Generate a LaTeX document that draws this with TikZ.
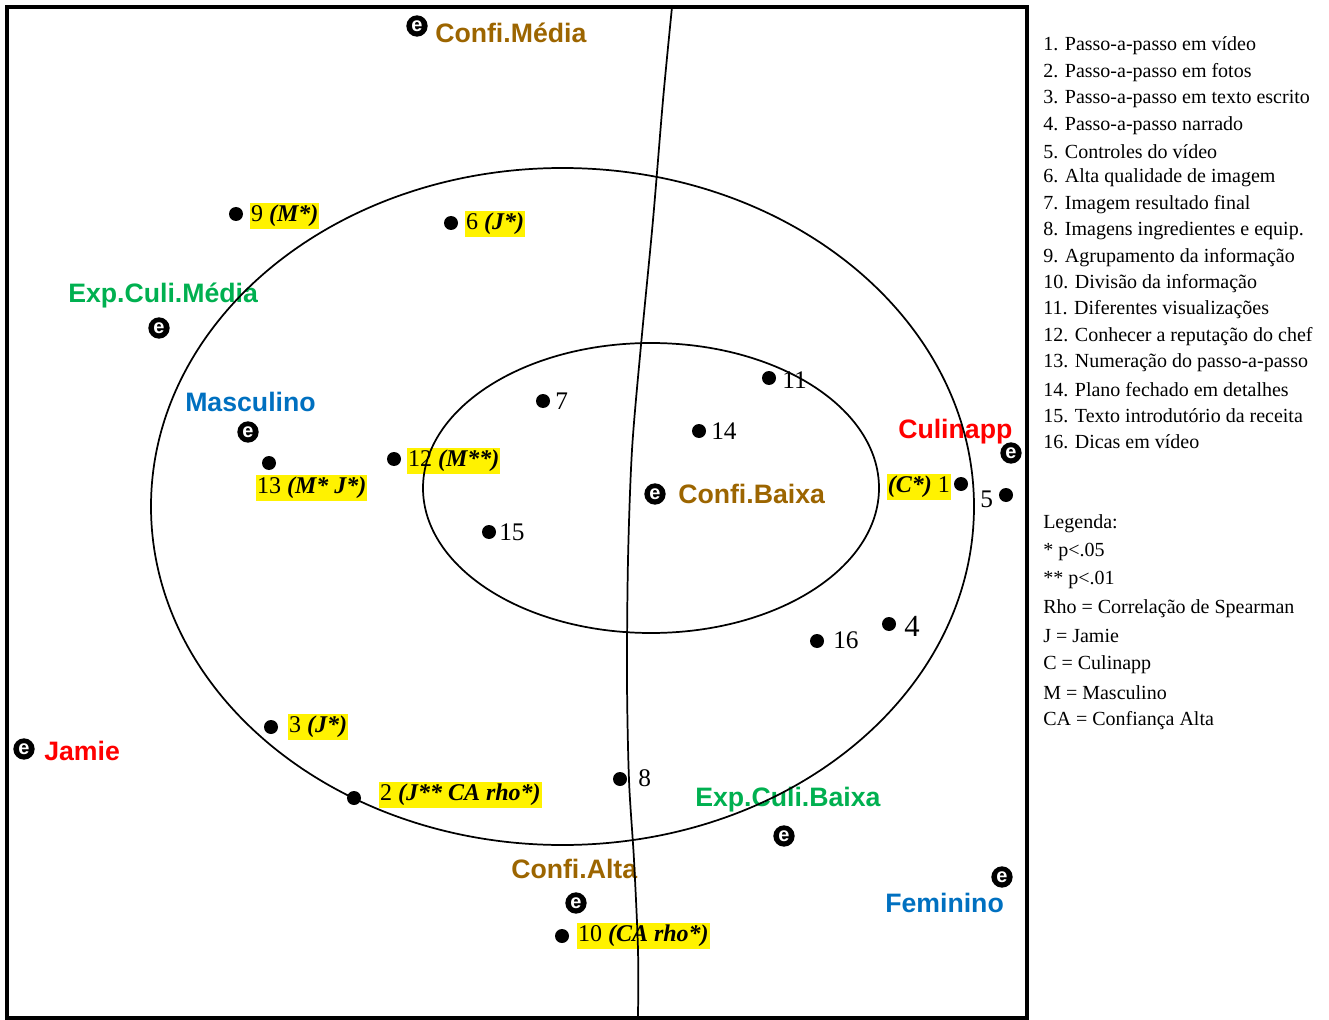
\documentclass[tikz,border=0pt]{standalone}
\usepackage{fontspec}
\setmainfont{Liberation Serif}
\newfontfamily\catfont{Liberation Sans}
\usepackage{tikz}

\definecolor{confbrown}{RGB}{156,101,0}
\definecolor{expgreen}{RGB}{0,176,80}
\definecolor{sexblue}{RGB}{0,112,192}
\definecolor{appred}{RGB}{255,0,0}

\tikzset{
  pt/.style={circle, fill=black, inner sep=0pt, minimum size=10.5pt},
  icon/.style={circle, fill=black, inner sep=0pt, minimum size=16pt, text=white,
    font=\catfont\bfseries\fontsize{15}{15}\selectfont},
  cat/.style={anchor=west, inner sep=0pt, font=\catfont\bfseries\fontsize{20}{22}\selectfont},
  hl/.style={anchor=west, fill=yellow, inner xsep=0.6pt, inner ysep=1.8pt, font=\fontsize{18}{20}\selectfont},
  num/.style={anchor=west, inner sep=0pt, font=\fontsize{19}{20}\selectfont},
  leg/.style={anchor=west, inner sep=0pt, font=\fontsize{15}{17}\selectfont},
}
\newcommand{\sig}[1]{\textbf{\textit{#1}}}

\begin{document}
\begin{tikzpicture}[x=0.75pt, y=-0.75pt]
        \useasboundingbox (0,0) rectangle (1329,1020);

        % Points of the map
        \node[pt] (p1) at (961,484) {};
        \node[pt] (p2) at (354,798) {};
        \node[pt] (p3) at (271,727) {};
        \node[pt] (p4) at (889,624) {};
        \node[pt] (p5) at (1006,495) {};
        \node[pt] (p6) at (451,223) {};
        \node[pt] (p7) at (543,401) {};
        \node[pt] (p8) at (620,779) {};
        \node[pt] (p9) at (236,214) {};
        \node[pt] (p10) at (562,936) {};
        \node[pt] (p11) at (769,378) {};
        \node[pt] (p12) at (394,459) {};
        \node[pt] (p13) at (269,463) {};
        \node[pt] (p14) at (699,431) {};
        \node[pt] (p15) at (489,532) {};
        \node[pt] (p16) at (817,641) {};

        % Labels of the points
        \node[hl, anchor=east] (l1) at (951,487) {\sig{(C*)} 1};
        \node[hl] (l2) at (379,795) {2 \sig{(J** CA rho*)}};
        \node[hl] (l3) at (288,727) {3 \sig{(J*)}};
        \node[num, font=\fontsize{23}{24}\selectfont] (l4) at (904,626) {4};
        \node[num] (l5) at (980,499) {5};
        \node[hl] (l6) at (465,224) {6 \sig{(J*)}};
        \node[num] (l7) at (555,401) {7};
        \node[num] (l8) at (638,778) {8};
        \node[hl] (l9) at (250,216) {9 \sig{(M*)}};
        \node[hl] (l10) at (577,936) {10 \sig{(CA rho*)}};
        \node[num] (l11) at (782,380) {11};
        \node[hl] (l12) at (407,461) {12 \sig{(M**)}};
        \node[hl] (l13) at (256,488) {13 \sig{(M* J*)}};
        \node[num] (l14) at (711,431) {14};
        \node[num] (l15) at (499,532) {15};
        \node[num] (l16) at (833,640) {16};

        % Category points
        \node[icon] (iConfMedia) at (417,26) {e};
        \node[cat, text=confbrown] (tConfMedia) at (435,33) {Confi.Média};
        \node[icon] (iExpMedia) at (159,328) {e};
        \node[cat, text=expgreen] (tExpMedia) at (68,295) {Exp.Culi.Média};
        \node[icon] (iMasc) at (248,432) {e};
        \node[cat, text=sexblue] (tMasc) at (185,402) {Masculino};
        \node[icon] (iCulin) at (1011,453) {e};
        \node[cat, text=appred] (tCulin) at (898,432) {Culinapp};
        \node[icon] (iConfBaixa) at (655,494) {e};
        \node[cat, text=confbrown] (tConfBaixa) at (678,494) {Confi.Baixa};
        \node[icon] (iJamie) at (24,749) {e};
        \node[cat, text=appred] (tJamie) at (44,751) {Jamie};
        \node[icon] (iExpBaixa) at (784,836) {e};
        \node[cat, text=expgreen] (tExpBaixa) at (695,800) {Exp.Culi.Baixa};
        \node[icon] (iConfAlta) at (576,903) {e};
        \node[cat, text=confbrown] (tConfAlta) at (511,869) {Confi.Alta};
        \node[icon] (iFem) at (1002,877) {e};
        \node[cat, text=sexblue] (tFem) at (885,903) {Feminino};

        % Frame, ellipses and dividing curve
        \draw[line width=2.4pt] (7,7) rectangle (1027,1018);
        \draw[line width=1.3pt] (562.5,506.5) ellipse [x radius=411.5, y radius=338.5];
        \draw[line width=1.3pt] (651,488) ellipse [x radius=228, y radius=145];
        \draw[line width=1.3pt] plot[smooth] coordinates {(672,7) (663,100) (653,220) (641,345)
            (632,450) (628,560) (627,680) (629,780) (634,860) (638,950) (638,1018)};

        % Legend
        \foreach \txt [count=\i] in {Passo-a-passo em vídeo, Passo-a-passo em fotos,
            Passo-a-passo em texto escrito, Passo-a-passo narrado, Controles do vídeo,
            Alta qualidade de imagem, Imagem resultado final, Imagens ingredientes e equip.,
            Agrupamento da informação, Divisão da informação, Diferentes visualizações,
            Conhecer a reputação do chef, Numeração do passo-a-passo,
            Plano fechado em detalhes, Texto introdutório da receita, Dicas em vídeo}
          \node[leg] (item\i) at (1043,{46+26.4*(\i-1)}) {\i. \txt};
        \foreach \txt [count=\i] in {Legenda:, * p<.05, ** p<.01,
            Rho = Correlação de Spearman, J = Jamie, C = Culinapp,
            M = Masculino, CA = Confiança Alta}
          \node[leg] (key\i) at (1043,{524+28.1*(\i-1)}) {\txt};
    \end{tikzpicture}
\end{document}
